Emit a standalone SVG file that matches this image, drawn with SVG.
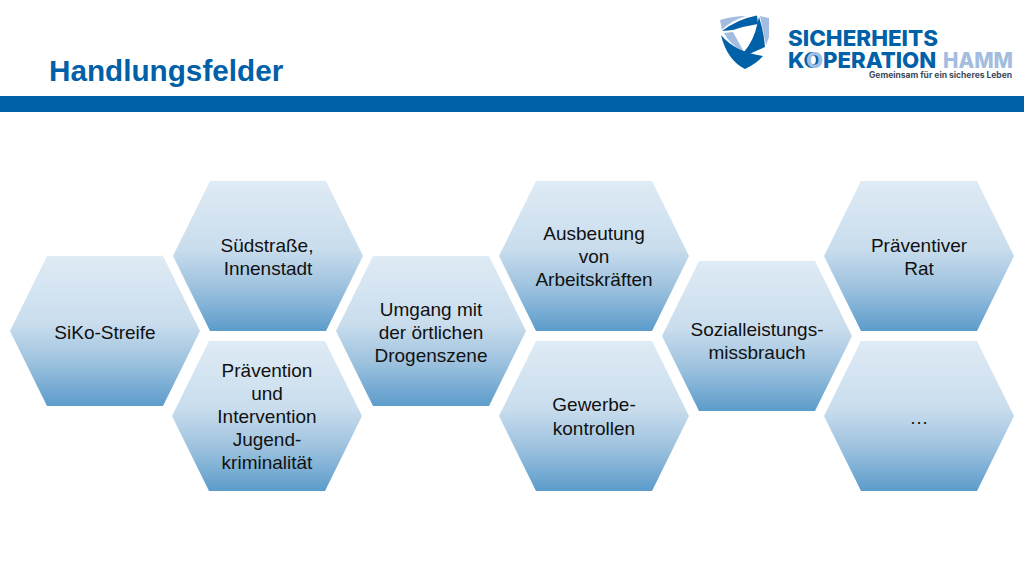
<svg xmlns="http://www.w3.org/2000/svg" width="1024" height="576" viewBox="0 0 1024 576">
<defs>
<linearGradient id="g" x1="0" y1="0" x2="0" y2="1">
<stop offset="0" stop-color="#dfebf5"/><stop offset="0.45" stop-color="#c9dded"/><stop offset="0.7" stop-color="#9fc3df"/><stop offset="1" stop-color="#5c9ccb"/>
</linearGradient>
<polygon id="hex" points="37,0 153,0 190,75 153,150 37,150 0,75" fill="url(#g)"/>
</defs>
<style>
.t{font-family:"Liberation Sans",Arial,sans-serif;font-size:19px;fill:#111;text-anchor:middle}
.l{font-family:Inter,"Liberation Sans",sans-serif;font-weight:800;font-size:21.5px;fill:#0060a8}
.d{fill:#0060a8}
.p{fill:#a3bde0}
</style>
<rect width="1024" height="576" fill="#fff"/>
<text id="title" x="49" y="81" style="font-family:'Liberation Sans',Arial,sans-serif;font-weight:700;font-size:29.7px;fill:#0060a8">Handlungsfelder</text>
<rect id="band" x="0" y="96" width="1024" height="16" fill="#0060a8"/>
<g id="logo">
<path class="p" d="M720,20 Q733,16 746,16 Q730,21 722,30Z"/>
<path class="p" d="M760,16 L769,18 L769,37 L766,45Z"/>
<path class="p" d="M724,33 L733,32 L744,52 Q730,45 724,33Z"/>
<path class="d" d="M722,31 Q738,19 757,15.5 L758,24 Q745,26 733,30Z"/>
<path class="d" d="M759,17 Q764,32 765,47 L747,55 L744,52 Q754,40 757,25Z"/>
<path class="d" d="M721,35 Q735,52 763,56 Q756,64 745,69 Q727,60 721,35Z"/>
<text class="l" x="788" y="45.5" textLength="150" lengthAdjust="spacingAndGlyphs">SICHERHEITS</text>
<text class="l" y="68" style="font-size:22.2px"><tspan x="788">KO</tspan><tspan x="806" style="fill:#a3bde0">O</tspan><tspan x="823">PERATION</tspan></text>
<text class="l" x="943" y="68" textLength="70" lengthAdjust="spacingAndGlyphs" style="fill:#a3bde0">HAMM</text>
<text x="869" y="78" textLength="143" lengthAdjust="spacingAndGlyphs" style="font-family:Inter,'Liberation Sans',sans-serif;font-weight:700;font-size:8.5px;fill:#3a4a5a">Gemeinsam für ein sicheres Leben</text>
</g>
<g id="connectors"></g>
<g id="n1"><use href="#hex" x="10" y="256"/><text class="t" x="105" y="339">SiKo-Streife</text></g>
<g id="n2"><use href="#hex" x="173" y="181"/><text class="t" x="267" y="252">Südstraße,</text><text class="t" x="268" y="275">Innenstadt</text></g>
<g id="n3"><use href="#hex" x="172" y="341"/><text class="t" x="267" y="377">Prävention</text><text class="t" x="267" y="400">und</text><text class="t" x="267" y="423">Intervention</text><text class="t" x="267" y="446">Jugend-</text><text class="t" x="267" y="469">kriminalität</text></g>
<g id="n4"><use href="#hex" x="336" y="256"/><text class="t" x="431" y="316">Umgang mit</text><text class="t" x="431" y="339">der örtlichen</text><text class="t" x="431" y="362">Drogenszene</text></g>
<g id="n5"><use href="#hex" x="499" y="181"/><text class="t" x="594" y="240">Ausbeutung</text><text class="t" x="594" y="263">von</text><text class="t" x="594" y="286">Arbeitskräften</text></g>
<g id="n6"><use href="#hex" x="499" y="341"/><text class="t" x="594" y="411">Gewerbe-</text><text class="t" x="594" y="435">kontrollen</text></g>
<g id="n7"><use href="#hex" x="662" y="261"/><text class="t" x="757" y="336">Sozialleistungs-</text><text class="t" x="757" y="359">missbrauch</text></g>
<g id="n8"><use href="#hex" x="824" y="181"/><text class="t" x="919" y="252">Präventiver</text><text class="t" x="919" y="275">Rat</text></g>
<g id="n9"><use href="#hex" x="824" y="341"/><text class="t" x="919" y="424">…</text></g>
</svg>
